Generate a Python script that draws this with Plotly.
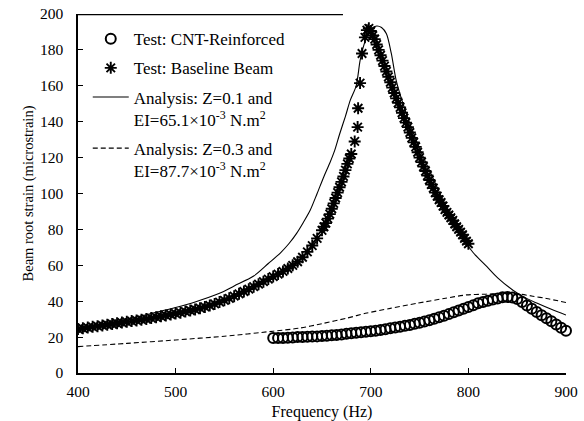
import plotly.graph_objects as go

# Test: baseline beam (measured), frequency in Hz, strain in microstrain
base_f = [400, 405, 410, 415, 420, 425, 430, 435, 440, 445, 450, 455, 460, 465, 470, 475,
          480, 485, 490, 495, 500, 505, 510, 515, 520, 525, 530, 535, 540, 545, 550, 555,
          560, 565, 570, 575, 580, 585, 590, 595, 600, 605, 610, 615, 620, 625, 630, 635,
          640, 645, 650, 652, 654, 656, 658, 660, 662, 664, 666, 668, 670, 672, 674, 676,
          678, 680, 683.5, 686.5, 687, 689, 691, 694, 696, 698, 700,
          702, 704, 706, 708, 710, 712, 714, 716, 718, 720, 722, 724, 726, 728, 730, 732,
          734, 736, 738, 740, 742, 744, 746, 748, 750, 752, 754, 756, 758, 760, 762, 764,
          766, 768, 770, 772, 774, 776, 778, 780, 782, 784, 786, 788, 790, 792, 794, 796,
          798, 800]
base_s = [24.5, 24.9, 25.3, 25.7, 26.1, 26.5, 26.9, 27.3, 27.7, 28.1, 28.5, 28.9, 29.3, 29.7,
          30.1, 30.6, 31.1, 31.6, 32.1, 32.6, 33.1, 33.6, 34.2, 34.8, 35.4, 36.1, 36.8, 37.6,
          38.5, 39.5, 40.5, 41.6, 42.8, 44.1, 45.4, 46.7, 48.1, 49.5, 50.9, 52.3, 53.7, 55.1,
          56.6, 58.2, 60.0, 62.0, 64.5, 67.5, 71.0, 75.0, 79.5, 81.5, 83.5, 86.0, 88.5, 91.5,
          94.5, 97.5, 100.5, 103.5, 106.5, 109.5, 113.0, 116.5, 119.5, 122.0, 129, 137, 147.5,
          161.5, 178, 187, 191, 192, 190.5,
          188, 186, 183, 180, 177, 174, 171, 168, 165, 162, 159, 156, 153, 150.5, 148, 145,
          142, 139.5, 137, 134, 131, 128.5, 126, 123, 120, 117.5, 115, 112.5, 110, 107.5, 105,
          103, 100.5, 98.5, 96.5, 95, 93, 91, 89.5, 88, 86.5, 85, 83, 81.5, 80, 78.5, 77, 75,
          73.5, 72]

# Test: CNT-reinforced beam (measured)
cnt_f = [600, 605, 610, 615, 620, 625, 630, 635, 640, 645, 650, 655, 660, 665, 670, 675, 680,
         685, 690, 695, 700, 705, 710, 715, 720, 725, 730, 735, 740, 745, 750, 755, 760, 765,
         770, 775, 780, 785, 790, 795, 800, 805, 810, 815, 820, 825, 830, 835, 840, 845, 850,
         855, 860, 865, 870, 875, 880, 885, 890, 895, 900, 903]
cnt_s = [19.5, 19.5, 19.5, 19.6, 19.8, 20.0, 20.1, 20.2, 20.3, 20.4, 20.6, 20.8, 21.0, 21.2,
         21.5, 21.8, 22.1, 22.4, 22.7, 23.0, 23.2, 23.6, 24.0, 24.4, 24.9, 25.3, 25.8, 26.3,
         26.8, 27.4, 28.0, 28.7, 29.4, 30.2, 31.0, 31.9, 32.8, 33.8, 34.8, 35.8, 36.8, 37.8,
         38.8, 39.5, 40.2, 40.9, 41.5, 42.2, 42.3, 42.0, 41.2, 39.5, 37.6, 35.8, 34.0, 32.2,
         30.5, 28.8, 27.0, 25.2, 23.5, 22.5]

# Analysis: Z=0.1, EI=65.1e-3 N.m^2
an1_f = [400, 420, 440, 460, 480, 500, 520, 545, 560, 580, 595, 607, 616, 624, 631, 638, 645,
         652, 658, 663, 668, 674, 679, 685, 689, 692, 696, 701, 706, 711, 716, 721, 726, 733,
         740, 750, 760, 770, 780, 790, 795, 805, 819, 830, 846, 858, 870, 885, 900]
an1_s = [24.5, 26.5, 28.7, 31.2, 33.8, 36.5, 39.6, 44.4, 48.5, 54.0, 61.0, 66.7, 72.0, 77.8,
         84.0, 90.8, 100.0, 109.5, 117.0, 124.0, 133.0, 143.0, 152.0, 160.0, 174.0, 181.0,
         187.5, 192.0, 193.3, 192.5, 189.0, 178.0, 163.0, 150.0, 139.0, 125.0, 113.0, 101.0,
         89.0, 79.0, 74.5, 67.0, 59.2, 53.0, 46.0, 42.0, 39.0, 35.5, 32.3]

# Analysis: Z=0.3, EI=87.7e-3 N.m^2
an2_f = [400, 450, 500, 550, 600, 627, 650, 675, 696, 720, 747, 775, 798, 818, 835, 850, 866,
         880, 900]
an2_s = [14.7, 16.5, 18.4, 20.5, 23.3, 25.0, 27.5, 30.5, 33.4, 36.0, 38.8, 41.5, 43.5, 43.9,
         44.3, 44.1, 42.8, 41.5, 39.3]

legend_names = [
    "Test: CNT-Reinforced",
    "Test: Baseline Beam",
    "Analysis: Z=0.1 and<br>EI=65.1×10<sup>-3</sup> N.m<sup>2</sup>",
    "Analysis: Z=0.3 and<br>EI=87.7×10<sup>-3</sup> N.m<sup>2</sup>",
]

x_ticks = [400, 500, 600, 700, 800, 900]
y_ticks = [0, 20, 40, 60, 80, 100, 120, 140, 160, 180, 200]

SERIF = "Liberation Serif, Times New Roman, serif"

fig = go.Figure()
fig.add_trace(go.Scatter(
    x=cnt_f, y=cnt_s, mode="markers", name=legend_names[0], legendgroup="g1",
    cliponaxis=False,
    marker=dict(symbol="circle-open", size=10, color="black", line=dict(width=2)),
))
fig.add_trace(go.Scatter(
    x=base_f, y=base_s, mode="markers", name=legend_names[1], legendgroup="g2",
    marker=dict(symbol="asterisk-open", size=10, color="black", line=dict(width=1.9)),
))
fig.add_trace(go.Scatter(
    x=an1_f, y=an1_s, mode="lines", name=legend_names[2], legendgroup="g3",
    line=dict(color="black", width=1.1, shape="spline", smoothing=0.8),
))
fig.add_trace(go.Scatter(
    x=an2_f, y=an2_s, mode="lines", name=legend_names[3], legendgroup="g4",
    line=dict(color="black", width=1.1, dash="5px,3px", shape="spline", smoothing=0.8),
))

fig.update_layout(
    width=584, height=421,
    margin=dict(l=78, r=18, t=14, b=48),
    paper_bgcolor="white", plot_bgcolor="white",
    font=dict(family=SERIF, size=15, color="black"),
    showlegend=True,
    legend=dict(
        x=0.02, y=0.98, xanchor="left", yanchor="top",
        bgcolor="rgba(0,0,0,0)", borderwidth=0,
        font=dict(family=SERIF, size=17, color="black"),
        valign="top", itemwidth=36, traceorder="grouped", tracegroupgap=4,
    ),
    xaxis=dict(
        range=[400, 900], tickvals=x_ticks, ticks="inside", ticklen=5, tickcolor="black",
        showline=True, linecolor="black", linewidth=1.5, showgrid=False, zeroline=False,
        automargin=False, ticklabelstandoff=4,
        title=dict(text="Frequency (Hz)", font=dict(family=SERIF, size=16), standoff=10),
        tickfont=dict(family=SERIF, size=15.5),
    ),
    yaxis=dict(
        range=[0, 200], tickvals=y_ticks, ticks="inside", ticklen=5, tickcolor="black",
        showline=True, linecolor="black", linewidth=1.5, showgrid=False, zeroline=False,
        automargin=False, ticklabelstandoff=10,
        title=dict(text="Beam root strain (microstrain)", font=dict(family=SERIF, size=14.5),
                   standoff=3),
        tickfont=dict(family=SERIF, size=15.5),
    ),
    xaxis2=dict(
        range=[400, 900], tickvals=x_ticks, overlaying="x", side="top", anchor="y",
        ticks="inside", ticklen=5, tickcolor="#777", showticklabels=False, automargin=False,
        showline=True, linecolor="#888", linewidth=1, showgrid=False, zeroline=False,
    ),
    yaxis2=dict(
        range=[0, 200], tickvals=y_ticks, overlaying="y", side="right", anchor="x",
        ticks="inside", ticklen=5, tickcolor="#777", showticklabels=False, automargin=False,
        showline=True, linecolor="#888", linewidth=1, showgrid=False, zeroline=False,
    ),
)

# dark edge along the upper-left part of the frame
fig.add_shape(type="line", xref="x", yref="y", x0=400, x1=671.5, y0=200, y1=200,
              line=dict(color="black", width=2.5))

fig.write_html("out.html")
